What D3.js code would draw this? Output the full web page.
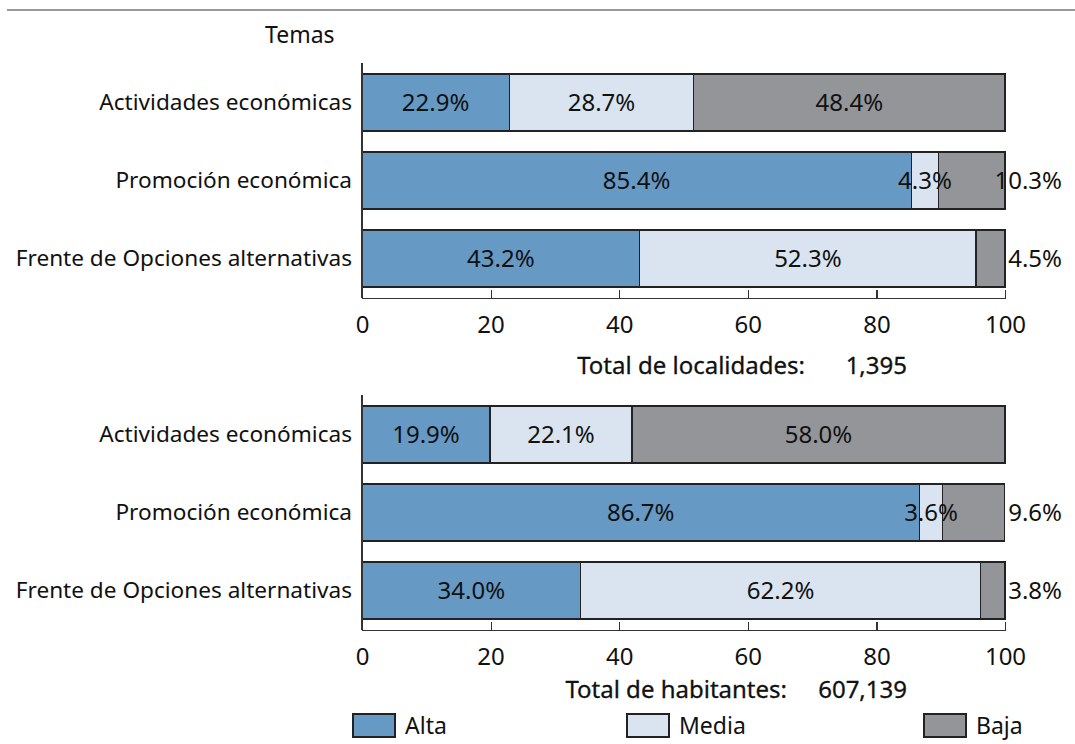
<!DOCTYPE html>
<html>
<head>
<meta charset="utf-8">
<script src="https://cdn.jsdelivr.net/npm/d3@7"></script>
<style>
	body { margin: 0; background: #fff; }
	svg text { font-family: "Noto Sans", "Open Sans", sans-serif; fill: #111; }
	.axis path, .axis line { stroke: #333; stroke-width: 1.2; shape-rendering: crispEdges; }
	.axis text { font-size: 24px; fill: #111; font-family: "Noto Sans", sans-serif; }
	.cat { font-size: 22.6px; }
	.val { font-size: 24px; }
	.total { font-size: 24px; stroke: #111; stroke-width: 0.3; }
	.seg { stroke: #222; stroke-width: 1.2; shape-rendering: crispEdges; }
</style>
</head>
<body>
<div class="svg-container"></div>
<script>
var categories = ['Actividades económicas', 'Promoción económica', 'Frente de Opciones alternativas'];
var levels = ['Alta', 'Media', 'Baja'];

var localidadesAlta = [22.9, 85.4, 43.2];
var localidadesMedia = [28.7, 4.3, 52.3];
var localidadesBaja = [48.4, 10.3, 4.5];

var habitantesAlta = [19.9, 86.7, 34.0];
var habitantesMedia = [22.1, 3.6, 62.2];
var habitantesBaja = [58.0, 9.6, 3.8];

var xTicks = [0, 20, 40, 60, 80, 100];
var totalLocalidades = ['Total de localidades:', '1,395'];
var totalHabitantes = ['Total de habitantes:', '607,139'];

var width = 1075, height = 744;
var left = 362, right = 1005;
var colors = { 'Alta': '#6699c4', 'Media': '#d9e4f0', 'Baja': '#939598' };

var svg = d3.select('.svg-container')
	.append('svg')
	.attr('width', width)
	.attr('height', height);

svg.append('line')
	.attr('x1', 7).attr('x2', width)
	.attr('y1', 10).attr('y2', 10)
	.attr('stroke', '#777')
	.attr('stroke-width', 1.5);

svg.append('text')
	.text('Temas')
	.attr('x', 265)
	.attr('y', 43)
	.attr('font-size', 23);

var xScale = d3.scaleLinear()
	.domain([0, 100])
	.range([left, right]);

function drawPanel(alta, media, baja, top, bottom, total, totalX, totalY) {
	var rows = categories.map(function(c, i) {
		return { cat: c, Alta: alta[i], Media: media[i], Baja: baja[i] };
	});
	var stacked = d3.stack().keys(levels)(rows);

	var yScale = d3.scaleBand()
		.domain(categories)
		.range([top, bottom])
		.paddingInner(0.27)
		.paddingOuter(0.14);

	var g = svg.append('g');

	stacked.forEach(function(layer) {
		var key = layer.key;
		g.selectAll(null)
			.data(layer)
			.enter()
			.append('rect')
			.attr('class', 'seg')
			.attr('x', function(d) { return xScale(d[0]); })
			.attr('width', function(d) { return xScale(d[1]) - xScale(d[0]); })
			.attr('y', function(d) { return yScale(d.data.cat); })
			.attr('height', yScale.bandwidth())
			.attr('fill', colors[key]);
	});

	// labels on top of every bar segment
	stacked.forEach(function(layer) {
		var key = layer.key;
		var outside = function(d) { return key === 'Baja' && d.data[key] < 12; };
		g.selectAll(null)
			.data(layer)
			.enter()
			.append('text')
			.attr('class', 'val')
			.text(function(d) { return d.data[key].toFixed(1) + '%'; })
			.attr('x', function(d) {
				return outside(d) ? xScale(100) + 57 : xScale((d[0] + d[1]) / 2);
			})
			.attr('text-anchor', function(d) { return outside(d) ? 'end' : 'middle'; })
			.attr('y', function(d) { return yScale(d.data.cat) + yScale.bandwidth() / 2; })
			.attr('dy', '0.35em');
	});

	var xAxis = d3.axisBottom()
		.scale(xScale)
		.tickValues(xTicks)
		.tickSize(-8)
		.tickSizeOuter(-8)
		.tickPadding(18);

	g.append('g')
		.attr('class', 'axis')
		.attr('transform', 'translate(0, ' + bottom + ')')
		.call(xAxis);

	g.append('line')
		.attr('x1', left).attr('x2', left)
		.attr('y1', top).attr('y2', bottom)
		.attr('stroke', '#333')
		.attr('stroke-width', 1.2)
		.attr('shape-rendering', 'crispEdges');

	g.selectAll(null)
		.data(categories)
		.enter()
		.append('text')
		.attr('class', 'cat')
		.text(function(d) { return d; })
		.attr('x', left - 10)
		.attr('y', function(d) { return yScale(d) + yScale.bandwidth() / 2; })
		.attr('dy', '0.35em')
		.attr('text-anchor', 'end');

	g.append('text')
		.attr('class', 'total')
		.text(total[0])
		.attr('x', totalX)
		.attr('y', totalY)
		.attr('text-anchor', 'end');

	g.append('text')
		.attr('class', 'total')
		.text(total[1])
		.attr('x', 907)
		.attr('y', totalY)
		.attr('text-anchor', 'end');
}

drawPanel(localidadesAlta, localidadesMedia, localidadesBaja, 63, 298, totalLocalidades, 805, 374);
drawPanel(habitantesAlta, habitantesMedia, habitantesBaja, 395, 630, totalHabitantes, 787, 698);

var legendX = d3.scaleOrdinal()
	.domain(levels)
	.range([353, 627, 924]);

var legend = svg.append('g')
	.selectAll(null)
	.data(levels)
	.enter()
	.append('g')
	.attr('transform', function(d) { return 'translate(' + legendX(d) + ', 714)'; });

legend.append('rect')
	.attr('width', 42)
	.attr('height', 23)
	.attr('fill', function(d) { return colors[d]; })
	.attr('class', 'seg');

legend.append('text')
	.text(function(d) { return d; })
	.attr('x', 52)
	.attr('y', 12)
	.attr('dy', '0.35em')
	.attr('font-size', 23);
</script>
</body>
</html>
